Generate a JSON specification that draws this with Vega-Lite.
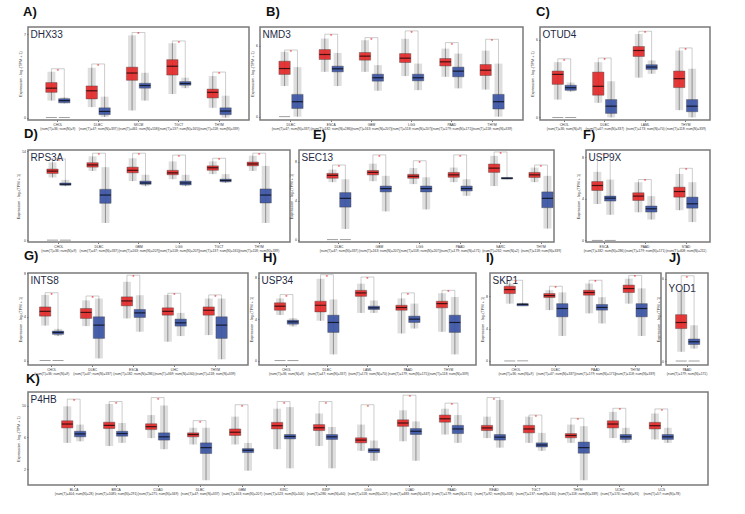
{
"$schema": "https://vega.github.io/schema/vega-lite/v6.json",
"autosize": {"type": "pad"},
"padding": {"left": 15, "top": 5, "right": 5, "bottom": 5},
"background": "white",
"spacing": -4,
"config": {
 "font": "Liberation Sans",
 "view": {"stroke": "#7a7a7a", "strokeWidth": 1.5},
 "title": {"fontSize": 13, "fontWeight": "bold", "anchor": "start", "frame": "group", "offset": 8, "baseline": "alphabetic", "color": "#111"},
 "axisX": {"labelAngle": 0, "labelFontSize": 3.3, "labelLineHeight": 4.2, "tickSize": 1.5, "labelPadding": 1, "labelOverlap": false, "titleX": 2, "titleAlign": "left", "titleBaseline": "alphabetic", "titleFontSize": 10, "titleFontWeight": "normal", "titleColor": "#1e2a44", "domain": false, "grid": false, "labelColor": "#333", "tickColor": "#777"},
 "axisY": {"labelFontSize": 3.5, "titleFontSize": 3.8, "tickSize": 1.5, "labelPadding": 1, "titlePadding": 1.5, "domain": false, "grid": false, "titleFontWeight": "normal", "titleColor": "#333", "labelColor": "#333", "tickColor": "#777"}
},
"vconcat": [
 {"bounds": "flush", "spacing": 11, "hconcat": [
  {"width": 221, "height": 93, "title": {"text": "A)", "dx": -5},
   "data": {"values": [
    {"c": "CHOL|(num(T)=36; num(N)=9)", "t": "Tumor", "lo": 1.43, "q1": 2.12, "md": 2.47, "q3": 2.94, "hi": 3.85, "br": 4.1, "z": 1},
    {"c": "CHOL|(num(T)=36; num(N)=9)", "t": "Normal", "lo": 1.2, "q1": 1.24, "md": 1.43, "q3": 1.59, "hi": 1.7, "br": 4.1, "z": 1},
    {"c": "DLBC|(num(T)=47; num(N)=337)", "t": "Tumor", "lo": 0.88, "q1": 1.57, "md": 2.25, "q3": 2.66, "hi": 4.18, "br": 4.5},
    {"c": "DLBC|(num(T)=47; num(N)=337)", "t": "Normal", "lo": 0.05, "q1": 0.25, "md": 0.52, "q3": 0.82, "hi": 1.76, "br": 4.5},
    {"c": "SKCM|(num(T)=461; num(N)=558)", "t": "Tumor", "lo": 0.6, "q1": 3.13, "md": 3.74, "q3": 4.23, "hi": 6.9, "br": 7.14},
    {"c": "SKCM|(num(T)=461; num(N)=558)", "t": "Normal", "lo": 1.43, "q1": 2.47, "md": 2.69, "q3": 2.88, "hi": 3.76, "br": 7.14},
    {"c": "TGCT|(num(T)=137; num(N)=165)", "t": "Tumor", "lo": 1.98, "q1": 3.57, "md": 4.31, "q3": 4.86, "hi": 6.24, "br": 6.43},
    {"c": "TGCT|(num(T)=137; num(N)=165)", "t": "Normal", "lo": 2.47, "q1": 2.72, "md": 2.86, "q3": 3.02, "hi": 3.35, "br": 6.43},
    {"c": "THYM|(num(T)=118; num(N)=339)", "t": "Tumor", "lo": 0.82, "q1": 1.65, "md": 2.12, "q3": 2.39, "hi": 3.49, "br": 3.82},
    {"c": "THYM|(num(T)=118; num(N)=339)", "t": "Normal", "lo": 0, "q1": 0.25, "md": 0.55, "q3": 0.82, "hi": 1.84, "br": 3.82}
   ]},
   "encoding": {"x": {"field": "c", "type": "nominal", "sort": null, "scale": {"paddingInner": 0.4, "paddingOuter": 0.44}, "axis": {"title": "DHX33", "titleY": -83, "labelExpr": "split(datum.label, '|')"}}},
   "layer": [
    {"mark": {"type": "rule", "color": "#9a9a9a", "strokeWidth": 0.5}, "encoding": {"xOffset": {"field": "t", "type": "nominal", "sort": ["Tumor", "Normal"], "scale": {"paddingInner": 0.12}}, "y": {"field": "hi", "type": "quantitative", "scale": {"domain": [-0.2, 7.6], "nice": false, "zero": false}, "axis": {"title": "Expression - log₂(TPM + 1)", "values": [0, 1, 2, 3, 4, 5, 6, 7]}}, "y2": {"field": "br"}}},
    {"mark": {"type": "line", "color": "#9a9a9a", "strokeWidth": 0.5}, "encoding": {"xOffset": {"field": "t", "type": "nominal", "sort": ["Tumor", "Normal"], "scale": {"paddingInner": 0.12}}, "y": {"field": "br", "type": "quantitative"}, "detail": {"field": "c"}}},
    {"mark": {"type": "bar", "color": "#000", "opacity": 0.13, "width": 8}, "encoding": {"xOffset": {"field": "t", "type": "nominal", "sort": ["Tumor", "Normal"], "scale": {"paddingInner": 0.12}}, "y": {"field": "lo", "type": "quantitative"}, "y2": {"field": "hi"}}},
    {"mark": {"type": "rule", "color": "#222", "strokeWidth": 0.7, "opacity": 0.6}, "encoding": {"xOffset": {"field": "t", "type": "nominal", "sort": ["Tumor", "Normal"], "scale": {"paddingInner": 0.12}}, "y": {"field": "lo", "type": "quantitative"}, "y2": {"field": "hi"}}},
    {"mark": {"type": "bar", "stroke": "#333", "strokeWidth": 0.4, "opacity": 0.92}, "encoding": {"xOffset": {"field": "t", "type": "nominal", "sort": ["Tumor", "Normal"], "scale": {"paddingInner": 0.12}}, "y": {"field": "q1", "type": "quantitative"}, "y2": {"field": "q3"}, "color": {"field": "t", "type": "nominal", "scale": {"domain": ["Tumor", "Normal"], "range": ["#e52a2a", "#3b54a5"]}, "legend": null}}},
    {"mark": {"type": "tick", "color": "#000", "thickness": 1.2, "size": 11}, "encoding": {"xOffset": {"field": "t", "type": "nominal", "sort": ["Tumor", "Normal"], "scale": {"paddingInner": 0.12}}, "y": {"field": "md", "type": "quantitative"}}},
    {"transform": [{"filter": "datum.t == 'Tumor'"}], "mark": {"type": "text", "text": "*", "color": "#e52a2a", "fontSize": 6, "dy": 2}, "encoding": {"y": {"field": "br", "type": "quantitative"}}},
    {"transform": [{"filter": "datum.z == 1"}], "mark": {"type": "tick", "color": "#555", "thickness": 0.8, "size": 11}, "encoding": {"xOffset": {"field": "t", "type": "nominal", "sort": ["Tumor", "Normal"], "scale": {"paddingInner": 0.12}}, "y": {"datum": 0, "type": "quantitative"}}}
   ]},
  {"bounds": "flush", "spacing": 17, "hconcat": [
   {"width": 263, "height": 93, "title": {"text": "B)", "dx": 6},
    "data": {"values": [
     {"c": "DLBC|(num(T)=47; num(N)=337)", "t": "Tumor", "lo": 2.6, "q1": 3.58, "md": 4.08, "q3": 4.7, "hi": 5.5, "br": 5.65, "z": 1},
     {"c": "DLBC|(num(T)=47; num(N)=337)", "t": "Normal", "lo": 0, "q1": 0.7, "md": 1.27, "q3": 1.89, "hi": 4.2, "br": 5.65},
     {"c": "ESCA|(num(T)=182; num(N)=286)", "t": "Tumor", "lo": 3.8, "q1": 4.85, "md": 5.27, "q3": 5.69, "hi": 6.62, "br": 6.99},
     {"c": "ESCA|(num(T)=182; num(N)=286)", "t": "Normal", "lo": 2.6, "q1": 3.8, "md": 4.06, "q3": 4.28, "hi": 5.4, "br": 6.99},
     {"c": "GBM|(num(T)=163; num(N)=207)", "t": "Tumor", "lo": 3.8, "q1": 4.79, "md": 5.13, "q3": 5.44, "hi": 6.48, "br": 6.7},
     {"c": "GBM|(num(T)=163; num(N)=207)", "t": "Normal", "lo": 2.2, "q1": 3.01, "md": 3.3, "q3": 3.6, "hi": 4.37, "br": 6.7},
     {"c": "LGG|(num(T)=518; num(N)=207)", "t": "Tumor", "lo": 3.44, "q1": 4.59, "md": 4.96, "q3": 5.35, "hi": 6.6, "br": 7.27},
     {"c": "LGG|(num(T)=518; num(N)=207)", "t": "Normal", "lo": 2.25, "q1": 3.04, "md": 3.3, "q3": 3.6, "hi": 4.5, "br": 7.27},
     {"c": "PAAD|(num(T)=179; num(N)=171)", "t": "Tumor", "lo": 3.38, "q1": 4.3, "md": 4.65, "q3": 4.93, "hi": 5.77, "br": 6.28},
     {"c": "PAAD|(num(T)=179; num(N)=171)", "t": "Normal", "lo": 2.4, "q1": 3.38, "md": 3.86, "q3": 4.2, "hi": 5.35, "br": 6.28},
     {"c": "THYM|(num(T)=118; num(N)=339)", "t": "Tumor", "lo": 2.3, "q1": 3.49, "md": 3.94, "q3": 4.42, "hi": 5.6, "br": 6.56},
     {"c": "THYM|(num(T)=118; num(N)=339)", "t": "Normal", "lo": 0, "q1": 0.65, "md": 1.27, "q3": 1.89, "hi": 4.5, "br": 6.56}
    ]},
    "encoding": {"x": {"field": "c", "type": "nominal", "sort": null, "scale": {"paddingInner": 0.4, "paddingOuter": 0.47}, "axis": {"title": "NMD3", "titleY": -83, "labelExpr": "split(datum.label, '|')"}}},
    "layer": [
     {"mark": {"type": "rule", "color": "#9a9a9a", "strokeWidth": 0.5}, "encoding": {"xOffset": {"field": "t", "type": "nominal", "sort": ["Tumor", "Normal"], "scale": {"paddingInner": 0.12}}, "y": {"field": "hi", "type": "quantitative", "scale": {"domain": [-0.28, 7.6], "nice": false, "zero": false}, "axis": {"title": "Expression - log₂(TPM + 1)", "values": [0, 2, 4, 6]}}, "y2": {"field": "br"}}},
     {"mark": {"type": "line", "color": "#9a9a9a", "strokeWidth": 0.5}, "encoding": {"xOffset": {"field": "t", "type": "nominal", "sort": ["Tumor", "Normal"], "scale": {"paddingInner": 0.12}}, "y": {"field": "br", "type": "quantitative"}, "detail": {"field": "c"}}},
     {"mark": {"type": "bar", "color": "#000", "opacity": 0.13, "width": 8}, "encoding": {"xOffset": {"field": "t", "type": "nominal", "sort": ["Tumor", "Normal"], "scale": {"paddingInner": 0.12}}, "y": {"field": "lo", "type": "quantitative"}, "y2": {"field": "hi"}}},
     {"mark": {"type": "rule", "color": "#222", "strokeWidth": 0.7, "opacity": 0.6}, "encoding": {"xOffset": {"field": "t", "type": "nominal", "sort": ["Tumor", "Normal"], "scale": {"paddingInner": 0.12}}, "y": {"field": "lo", "type": "quantitative"}, "y2": {"field": "hi"}}},
     {"mark": {"type": "bar", "stroke": "#333", "strokeWidth": 0.4, "opacity": 0.92}, "encoding": {"xOffset": {"field": "t", "type": "nominal", "sort": ["Tumor", "Normal"], "scale": {"paddingInner": 0.12}}, "y": {"field": "q1", "type": "quantitative"}, "y2": {"field": "q3"}, "color": {"field": "t", "type": "nominal", "scale": {"domain": ["Tumor", "Normal"], "range": ["#e52a2a", "#3b54a5"]}, "legend": null}}},
     {"mark": {"type": "tick", "color": "#000", "thickness": 1.2, "size": 11}, "encoding": {"xOffset": {"field": "t", "type": "nominal", "sort": ["Tumor", "Normal"], "scale": {"paddingInner": 0.12}}, "y": {"field": "md", "type": "quantitative"}}},
     {"transform": [{"filter": "datum.t == 'Tumor'"}], "mark": {"type": "text", "text": "*", "color": "#e52a2a", "fontSize": 6, "dy": 2}, "encoding": {"y": {"field": "br", "type": "quantitative"}}},
     {"transform": [{"filter": "datum.z == 1"}], "mark": {"type": "tick", "color": "#555", "thickness": 0.8, "size": 11}, "encoding": {"xOffset": {"field": "t", "type": "nominal", "sort": ["Tumor", "Normal"], "scale": {"paddingInner": 0.12}}, "y": {"datum": 0, "type": "quantitative"}}}
    ]},
   {"width": 170, "height": 93, "title": {"text": "C)", "dx": -4},
    "data": {"values": [
     {"c": "CHOL|(num(T)=36; num(N)=9)", "t": "Tumor", "lo": 1.38, "q1": 2.56, "md": 3.33, "q3": 3.59, "hi": 4.28, "br": 4.54, "z": 1},
     {"c": "CHOL|(num(T)=36; num(N)=9)", "t": "Normal", "lo": 2.0, "q1": 2.1, "md": 2.3, "q3": 2.49, "hi": 2.7, "br": 4.54, "z": 1},
     {"c": "DLBC|(num(T)=47; num(N)=337)", "t": "Tumor", "lo": 1.13, "q1": 1.72, "md": 2.41, "q3": 3.51, "hi": 4.28, "br": 4.6},
     {"c": "DLBC|(num(T)=47; num(N)=337)", "t": "Normal", "lo": 0, "q1": 0.31, "md": 0.87, "q3": 1.38, "hi": 2.8, "br": 4.6},
     {"c": "LAML|(num(T)=173; num(N)=70)", "t": "Tumor", "lo": 3.08, "q1": 4.72, "md": 5.18, "q3": 5.49, "hi": 6.46, "br": 6.67},
     {"c": "LAML|(num(T)=173; num(N)=70)", "t": "Normal", "lo": 3.38, "q1": 3.72, "md": 3.9, "q3": 4.08, "hi": 4.41, "br": 6.67},
     {"c": "THYM|(num(T)=118; num(N)=339)", "t": "Tumor", "lo": 0.56, "q1": 2.31, "md": 3.0, "q3": 3.59, "hi": 5.18, "br": 5.38},
     {"c": "THYM|(num(T)=118; num(N)=339)", "t": "Normal", "lo": 0, "q1": 0.44, "md": 0.87, "q3": 1.38, "hi": 3.77, "br": 5.38}
    ]},
    "encoding": {"x": {"field": "c", "type": "nominal", "sort": null, "scale": {"paddingInner": 0.4, "paddingOuter": 0.3}, "axis": {"title": "OTUD4", "titleY": -83, "labelExpr": "split(datum.label, '|')"}}},
    "layer": [
     {"mark": {"type": "rule", "color": "#9a9a9a", "strokeWidth": 0.5}, "encoding": {"xOffset": {"field": "t", "type": "nominal", "sort": ["Tumor", "Normal"], "scale": {"paddingInner": 0.12}}, "y": {"field": "hi", "type": "quantitative", "scale": {"domain": [-0.2, 7.0], "nice": false, "zero": false}, "axis": {"title": "Expression - log₂(TPM + 1)", "values": [0, 1, 2, 3, 4, 5, 6]}}, "y2": {"field": "br"}}},
     {"mark": {"type": "line", "color": "#9a9a9a", "strokeWidth": 0.5}, "encoding": {"xOffset": {"field": "t", "type": "nominal", "sort": ["Tumor", "Normal"], "scale": {"paddingInner": 0.12}}, "y": {"field": "br", "type": "quantitative"}, "detail": {"field": "c"}}},
     {"mark": {"type": "bar", "color": "#000", "opacity": 0.13, "width": 8}, "encoding": {"xOffset": {"field": "t", "type": "nominal", "sort": ["Tumor", "Normal"], "scale": {"paddingInner": 0.12}}, "y": {"field": "lo", "type": "quantitative"}, "y2": {"field": "hi"}}},
     {"mark": {"type": "rule", "color": "#222", "strokeWidth": 0.7, "opacity": 0.6}, "encoding": {"xOffset": {"field": "t", "type": "nominal", "sort": ["Tumor", "Normal"], "scale": {"paddingInner": 0.12}}, "y": {"field": "lo", "type": "quantitative"}, "y2": {"field": "hi"}}},
     {"mark": {"type": "bar", "stroke": "#333", "strokeWidth": 0.4, "opacity": 0.92}, "encoding": {"xOffset": {"field": "t", "type": "nominal", "sort": ["Tumor", "Normal"], "scale": {"paddingInner": 0.12}}, "y": {"field": "q1", "type": "quantitative"}, "y2": {"field": "q3"}, "color": {"field": "t", "type": "nominal", "scale": {"domain": ["Tumor", "Normal"], "range": ["#e52a2a", "#3b54a5"]}, "legend": null}}},
     {"mark": {"type": "tick", "color": "#000", "thickness": 1.2, "size": 11}, "encoding": {"xOffset": {"field": "t", "type": "nominal", "sort": ["Tumor", "Normal"], "scale": {"paddingInner": 0.12}}, "y": {"field": "md", "type": "quantitative"}}},
     {"transform": [{"filter": "datum.t == 'Tumor'"}], "mark": {"type": "text", "text": "*", "color": "#e52a2a", "fontSize": 6, "dy": 2}, "encoding": {"y": {"field": "br", "type": "quantitative"}}},
     {"transform": [{"filter": "datum.z == 1"}], "mark": {"type": "tick", "color": "#555", "thickness": 0.8, "size": 11}, "encoding": {"xOffset": {"field": "t", "type": "nominal", "sort": ["Tumor", "Normal"], "scale": {"paddingInner": 0.12}}, "y": {"datum": 0, "type": "quantitative"}}}
    ]}
  ]}
 ]},
 {"bounds": "flush", "spacing": 9, "hconcat": [
  {"width": 262, "height": 92, "title": {"text": "D)", "dx": -4},
   "data": {"values": [
    {"c": "CHOL|(num(T)=36; num(N)=9)", "t": "Tumor", "lo": 9.87, "q1": 10.5, "md": 10.87, "q3": 11.2, "hi": 12.25, "br": 12.8, "z": 1},
    {"c": "CHOL|(num(T)=36; num(N)=9)", "t": "Normal", "lo": 8.5, "q1": 8.65, "md": 8.8, "q3": 9.0, "hi": 9.5, "br": 12.8, "z": 1},
    {"c": "DLBC|(num(T)=47; num(N)=337)", "t": "Tumor", "lo": 10.9, "q1": 11.5, "md": 11.85, "q3": 12.2, "hi": 13.2, "br": 13.7},
    {"c": "DLBC|(num(T)=47; num(N)=337)", "t": "Normal", "lo": 2.7, "q1": 5.8, "md": 7.1, "q3": 8.0, "hi": 11.5, "br": 13.7},
    {"c": "GBM|(num(T)=163; num(N)=207)", "t": "Tumor", "lo": 9.3, "q1": 10.6, "md": 11.0, "q3": 11.5, "hi": 12.9, "br": 13.7},
    {"c": "GBM|(num(T)=163; num(N)=207)", "t": "Normal", "lo": 8.5, "q1": 8.8, "md": 9.0, "q3": 9.3, "hi": 10.3, "br": 13.7},
    {"c": "LGG|(num(T)=518; num(N)=207)", "t": "Tumor", "lo": 9.6, "q1": 10.3, "md": 10.6, "q3": 11.0, "hi": 12.4, "br": 13.4},
    {"c": "LGG|(num(T)=518; num(N)=207)", "t": "Normal", "lo": 8.5, "q1": 8.7, "md": 9.0, "q3": 9.3, "hi": 10.3, "br": 13.4},
    {"c": "TGCT|(num(T)=137; num(N)=165)", "t": "Tumor", "lo": 10.4, "q1": 11.0, "md": 11.4, "q3": 11.7, "hi": 12.4, "br": 12.9},
    {"c": "TGCT|(num(T)=137; num(N)=165)", "t": "Normal", "lo": 9.0, "q1": 9.2, "md": 9.4, "q3": 9.6, "hi": 10.4, "br": 12.9},
    {"c": "THYM|(num(T)=118; num(N)=339)", "t": "Tumor", "lo": 10.9, "q1": 11.7, "md": 12.0, "q3": 12.3, "hi": 13.3, "br": 13.7},
    {"c": "THYM|(num(T)=118; num(N)=339)", "t": "Normal", "lo": 2.7, "q1": 5.85, "md": 7.1, "q3": 8.06, "hi": 11.7, "br": 13.7}
   ]},
   "encoding": {"x": {"field": "c", "type": "nominal", "sort": null, "scale": {"paddingInner": 0.4, "paddingOuter": 0.47}, "axis": {"title": "RPS3A", "titleY": -82, "labelExpr": "split(datum.label, '|')"}}},
   "layer": [
    {"mark": {"type": "rule", "color": "#9a9a9a", "strokeWidth": 0.5}, "encoding": {"xOffset": {"field": "t", "type": "nominal", "sort": ["Tumor", "Normal"], "scale": {"paddingInner": 0.12}}, "y": {"field": "hi", "type": "quantitative", "scale": {"domain": [-0.3, 14.2], "nice": false, "zero": false}, "axis": {"title": "Expression - log₂(TPM + 1)", "values": [0, 2, 4, 6, 8, 10, 12, 14]}}, "y2": {"field": "br"}}},
    {"mark": {"type": "line", "color": "#9a9a9a", "strokeWidth": 0.5}, "encoding": {"xOffset": {"field": "t", "type": "nominal", "sort": ["Tumor", "Normal"], "scale": {"paddingInner": 0.12}}, "y": {"field": "br", "type": "quantitative"}, "detail": {"field": "c"}}},
    {"mark": {"type": "bar", "color": "#000", "opacity": 0.13, "width": 8}, "encoding": {"xOffset": {"field": "t", "type": "nominal", "sort": ["Tumor", "Normal"], "scale": {"paddingInner": 0.12}}, "y": {"field": "lo", "type": "quantitative"}, "y2": {"field": "hi"}}},
    {"mark": {"type": "rule", "color": "#222", "strokeWidth": 0.7, "opacity": 0.6}, "encoding": {"xOffset": {"field": "t", "type": "nominal", "sort": ["Tumor", "Normal"], "scale": {"paddingInner": 0.12}}, "y": {"field": "lo", "type": "quantitative"}, "y2": {"field": "hi"}}},
    {"mark": {"type": "bar", "stroke": "#333", "strokeWidth": 0.4, "opacity": 0.92}, "encoding": {"xOffset": {"field": "t", "type": "nominal", "sort": ["Tumor", "Normal"], "scale": {"paddingInner": 0.12}}, "y": {"field": "q1", "type": "quantitative"}, "y2": {"field": "q3"}, "color": {"field": "t", "type": "nominal", "scale": {"domain": ["Tumor", "Normal"], "range": ["#e52a2a", "#3b54a5"]}, "legend": null}}},
    {"mark": {"type": "tick", "color": "#000", "thickness": 1.2, "size": 11}, "encoding": {"xOffset": {"field": "t", "type": "nominal", "sort": ["Tumor", "Normal"], "scale": {"paddingInner": 0.12}}, "y": {"field": "md", "type": "quantitative"}}},
    {"transform": [{"filter": "datum.t == 'Tumor'"}], "mark": {"type": "text", "text": "*", "color": "#e52a2a", "fontSize": 6, "dy": 2}, "encoding": {"y": {"field": "br", "type": "quantitative"}}},
    {"transform": [{"filter": "datum.z == 1"}], "mark": {"type": "tick", "color": "#555", "thickness": 0.8, "size": 11}, "encoding": {"xOffset": {"field": "t", "type": "nominal", "sort": ["Tumor", "Normal"], "scale": {"paddingInner": 0.12}}, "y": {"datum": 0, "type": "quantitative"}}}
   ]},
  {"bounds": "flush", "spacing": 32, "hconcat": [
   {"width": 255, "height": 92, "title": {"text": "E)", "dx": 14},
    "data": {"values": [
     {"c": "DLBC|(num(T)=47; num(N)=337)", "t": "Tumor", "lo": 5.9, "q1": 6.3, "md": 6.6, "q3": 6.8, "hi": 7.2, "br": 7.66, "z": 1},
     {"c": "DLBC|(num(T)=47; num(N)=337)", "t": "Normal", "lo": 1.1, "q1": 3.34, "md": 4.24, "q3": 4.83, "hi": 6.2, "br": 7.66, "z": 1},
     {"c": "GBM|(num(T)=163; num(N)=207)", "t": "Tumor", "lo": 6.0, "q1": 6.65, "md": 6.9, "q3": 7.1, "hi": 7.8, "br": 8.7},
     {"c": "GBM|(num(T)=163; num(N)=207)", "t": "Normal", "lo": 2.9, "q1": 4.9, "md": 5.24, "q3": 5.5, "hi": 6.55, "br": 8.7},
     {"c": "LGG|(num(T)=518; num(N)=207)", "t": "Tumor", "lo": 5.7, "q1": 6.3, "md": 6.5, "q3": 6.7, "hi": 7.35, "br": 8.1},
     {"c": "LGG|(num(T)=518; num(N)=207)", "t": "Normal", "lo": 3.1, "q1": 4.9, "md": 5.24, "q3": 5.5, "hi": 6.4, "br": 8.1},
     {"c": "PAAD|(num(T)=179; num(N)=171)", "t": "Tumor", "lo": 5.9, "q1": 6.4, "md": 6.65, "q3": 6.9, "hi": 7.4, "br": 8.7},
     {"c": "PAAD|(num(T)=179; num(N)=171)", "t": "Normal", "lo": 4.5, "q1": 5.0, "md": 5.24, "q3": 5.5, "hi": 6.2, "br": 8.7},
     {"c": "SARC|(num(T)=262; num(N)=2)", "t": "Tumor", "lo": 5.5, "q1": 6.9, "md": 7.34, "q3": 7.76, "hi": 8.6, "br": 9.0},
     {"c": "SARC|(num(T)=262; num(N)=2)", "t": "Normal", "lo": 6.2, "q1": 6.22, "md": 6.3, "q3": 6.38, "hi": 6.4, "br": 9.0},
     {"c": "THYM|(num(T)=118; num(N)=339)", "t": "Tumor", "lo": 5.9, "q1": 6.38, "md": 6.65, "q3": 6.9, "hi": 7.4, "br": 7.66},
     {"c": "THYM|(num(T)=118; num(N)=339)", "t": "Normal", "lo": 1.14, "q1": 3.28, "md": 4.24, "q3": 4.9, "hi": 6.55, "br": 7.66}
    ]},
    "encoding": {"x": {"field": "c", "type": "nominal", "sort": null, "scale": {"paddingInner": 0.4, "paddingOuter": 0.355, "align": 0.97}, "axis": {"title": "SEC13", "titleY": -82, "labelExpr": "split(datum.label, '|')"}}},
    "layer": [
     {"mark": {"type": "rule", "color": "#9a9a9a", "strokeWidth": 0.5}, "encoding": {"xOffset": {"field": "t", "type": "nominal", "sort": ["Tumor", "Normal"], "scale": {"paddingInner": 0.12}}, "y": {"field": "hi", "type": "quantitative", "scale": {"domain": [-0.24, 9.2], "nice": false, "zero": false}, "axis": {"title": "Expression - log₂(TPM + 1)", "values": [0, 2, 4, 6, 8]}}, "y2": {"field": "br"}}},
     {"mark": {"type": "line", "color": "#9a9a9a", "strokeWidth": 0.5}, "encoding": {"xOffset": {"field": "t", "type": "nominal", "sort": ["Tumor", "Normal"], "scale": {"paddingInner": 0.12}}, "y": {"field": "br", "type": "quantitative"}, "detail": {"field": "c"}}},
     {"mark": {"type": "bar", "color": "#000", "opacity": 0.13, "width": 8}, "encoding": {"xOffset": {"field": "t", "type": "nominal", "sort": ["Tumor", "Normal"], "scale": {"paddingInner": 0.12}}, "y": {"field": "lo", "type": "quantitative"}, "y2": {"field": "hi"}}},
     {"mark": {"type": "rule", "color": "#222", "strokeWidth": 0.7, "opacity": 0.6}, "encoding": {"xOffset": {"field": "t", "type": "nominal", "sort": ["Tumor", "Normal"], "scale": {"paddingInner": 0.12}}, "y": {"field": "lo", "type": "quantitative"}, "y2": {"field": "hi"}}},
     {"mark": {"type": "bar", "stroke": "#333", "strokeWidth": 0.4, "opacity": 0.92}, "encoding": {"xOffset": {"field": "t", "type": "nominal", "sort": ["Tumor", "Normal"], "scale": {"paddingInner": 0.12}}, "y": {"field": "q1", "type": "quantitative"}, "y2": {"field": "q3"}, "color": {"field": "t", "type": "nominal", "scale": {"domain": ["Tumor", "Normal"], "range": ["#e52a2a", "#3b54a5"]}, "legend": null}}},
     {"mark": {"type": "tick", "color": "#000", "thickness": 1.2, "size": 11}, "encoding": {"xOffset": {"field": "t", "type": "nominal", "sort": ["Tumor", "Normal"], "scale": {"paddingInner": 0.12}}, "y": {"field": "md", "type": "quantitative"}}},
     {"transform": [{"filter": "datum.t == 'Tumor'"}], "mark": {"type": "text", "text": "*", "color": "#e52a2a", "fontSize": 6, "dy": 2}, "encoding": {"y": {"field": "br", "type": "quantitative"}}},
     {"transform": [{"filter": "datum.z == 1"}], "mark": {"type": "tick", "color": "#555", "thickness": 0.8, "size": 11}, "encoding": {"xOffset": {"field": "t", "type": "nominal", "sort": ["Tumor", "Normal"], "scale": {"paddingInner": 0.12}}, "y": {"datum": 0, "type": "quantitative"}}}
    ]},
   {"width": 124, "height": 92, "title": {"text": "F)", "dx": -3},
    "data": {"values": [
     {"c": "ESCA|(num(T)=182; num(N)=286)", "t": "Tumor", "lo": 3.5, "q1": 4.8, "md": 5.28, "q3": 5.66, "hi": 6.6, "br": 8.3, "z": 1},
     {"c": "ESCA|(num(T)=182; num(N)=286)", "t": "Normal", "lo": 2.46, "q1": 3.78, "md": 4.06, "q3": 4.26, "hi": 5.85, "br": 8.3, "z": 1},
     {"c": "PAAD|(num(T)=179; num(N)=171)", "t": "Tumor", "lo": 2.7, "q1": 3.84, "md": 4.26, "q3": 4.58, "hi": 5.6, "br": 5.86},
     {"c": "PAAD|(num(T)=179; num(N)=171)", "t": "Normal", "lo": 2.0, "q1": 2.72, "md": 3.04, "q3": 3.3, "hi": 4.26, "br": 5.86},
     {"c": "STAD|(num(T)=408; num(N)=211)", "t": "Tumor", "lo": 2.9, "q1": 4.16, "md": 4.7, "q3": 5.12, "hi": 6.4, "br": 6.94},
     {"c": "STAD|(num(T)=408; num(N)=211)", "t": "Normal", "lo": 1.76, "q1": 3.1, "md": 3.52, "q3": 4.16, "hi": 5.6, "br": 6.94}
    ]},
    "encoding": {"x": {"field": "c", "type": "nominal", "sort": null, "scale": {"paddingInner": 0.4, "paddingOuter": 0.21, "align": 0.33}, "axis": {"title": "USP9X", "titleY": -82, "labelExpr": "split(datum.label, '|')"}}},
    "layer": [
     {"mark": {"type": "rule", "color": "#9a9a9a", "strokeWidth": 0.5}, "encoding": {"xOffset": {"field": "t", "type": "nominal", "sort": ["Tumor", "Normal"], "scale": {"paddingInner": 0.12}}, "y": {"field": "hi", "type": "quantitative", "scale": {"domain": [-0.16, 8.7], "nice": false, "zero": false}, "axis": {"title": "Expression - log₂(TPM + 1)", "values": [0, 2, 4, 6, 8]}}, "y2": {"field": "br"}}},
     {"mark": {"type": "line", "color": "#9a9a9a", "strokeWidth": 0.5}, "encoding": {"xOffset": {"field": "t", "type": "nominal", "sort": ["Tumor", "Normal"], "scale": {"paddingInner": 0.12}}, "y": {"field": "br", "type": "quantitative"}, "detail": {"field": "c"}}},
     {"mark": {"type": "bar", "color": "#000", "opacity": 0.13, "width": 8}, "encoding": {"xOffset": {"field": "t", "type": "nominal", "sort": ["Tumor", "Normal"], "scale": {"paddingInner": 0.12}}, "y": {"field": "lo", "type": "quantitative"}, "y2": {"field": "hi"}}},
     {"mark": {"type": "rule", "color": "#222", "strokeWidth": 0.7, "opacity": 0.6}, "encoding": {"xOffset": {"field": "t", "type": "nominal", "sort": ["Tumor", "Normal"], "scale": {"paddingInner": 0.12}}, "y": {"field": "lo", "type": "quantitative"}, "y2": {"field": "hi"}}},
     {"mark": {"type": "bar", "stroke": "#333", "strokeWidth": 0.4, "opacity": 0.92}, "encoding": {"xOffset": {"field": "t", "type": "nominal", "sort": ["Tumor", "Normal"], "scale": {"paddingInner": 0.12}}, "y": {"field": "q1", "type": "quantitative"}, "y2": {"field": "q3"}, "color": {"field": "t", "type": "nominal", "scale": {"domain": ["Tumor", "Normal"], "range": ["#e52a2a", "#3b54a5"]}, "legend": null}}},
     {"mark": {"type": "tick", "color": "#000", "thickness": 1.2, "size": 11}, "encoding": {"xOffset": {"field": "t", "type": "nominal", "sort": ["Tumor", "Normal"], "scale": {"paddingInner": 0.12}}, "y": {"field": "md", "type": "quantitative"}}},
     {"transform": [{"filter": "datum.t == 'Tumor'"}], "mark": {"type": "text", "text": "*", "color": "#e52a2a", "fontSize": 6, "dy": 2}, "encoding": {"y": {"field": "br", "type": "quantitative"}}},
     {"transform": [{"filter": "datum.z == 1"}], "mark": {"type": "tick", "color": "#555", "thickness": 0.8, "size": 11}, "encoding": {"xOffset": {"field": "t", "type": "nominal", "sort": ["Tumor", "Normal"], "scale": {"paddingInner": 0.12}}, "y": {"datum": 0, "type": "quantitative"}}}
    ]}
  ]}
 ]},
 {"bounds": "flush", "spacing": 11, "hconcat": [
  {"width": 220, "height": 92, "title": {"text": "G)", "dx": -4},
   "data": {"values": [
    {"c": "CHOL|(num(T)=36; num(N)=9)", "t": "Tumor", "lo": 3.2, "q1": 4.06, "md": 4.5, "q3": 4.9, "hi": 6.0, "br": 6.2, "z": 1},
    {"c": "CHOL|(num(T)=36; num(N)=9)", "t": "Normal", "lo": 2.24, "q1": 2.4, "md": 2.57, "q3": 2.7, "hi": 2.9, "br": 6.2, "z": 1},
    {"c": "DLBC|(num(T)=47; num(N)=337)", "t": "Tumor", "lo": 3.15, "q1": 3.85, "md": 4.4, "q3": 4.76, "hi": 5.5, "br": 5.9},
    {"c": "DLBC|(num(T)=47; num(N)=337)", "t": "Normal", "lo": 0.2, "q1": 2.03, "md": 3.24, "q3": 4.0, "hi": 5.67, "br": 5.9},
    {"c": "ESCA|(num(T)=182; num(N)=286)", "t": "Tumor", "lo": 3.85, "q1": 5.0, "md": 5.45, "q3": 5.82, "hi": 7.2, "br": 7.8},
    {"c": "ESCA|(num(T)=182; num(N)=286)", "t": "Normal", "lo": 2.64, "q1": 3.94, "md": 4.36, "q3": 4.67, "hi": 5.97, "br": 7.8},
    {"c": "LIHC|(num(T)=369; num(N)=160)", "t": "Tumor", "lo": 1.73, "q1": 4.15, "md": 4.5, "q3": 4.82, "hi": 6.0, "br": 6.15},
    {"c": "LIHC|(num(T)=369; num(N)=160)", "t": "Normal", "lo": 2.24, "q1": 3.15, "md": 3.45, "q3": 3.79, "hi": 4.36, "br": 6.15},
    {"c": "THYM|(num(T)=118; num(N)=339)", "t": "Tumor", "lo": 2.33, "q1": 4.15, "md": 4.6, "q3": 4.9, "hi": 5.67, "br": 6.0},
    {"c": "THYM|(num(T)=118; num(N)=339)", "t": "Normal", "lo": 0.12, "q1": 2.03, "md": 3.24, "q3": 4.0, "hi": 5.67, "br": 6.0}
   ]},
   "encoding": {"x": {"field": "c", "type": "nominal", "sort": null, "scale": {"paddingInner": 0.4, "paddingOuter": 0.39, "align": 0.36}, "axis": {"title": "INTS8", "titleY": -82, "labelExpr": "split(datum.label, '|')"}}},
   "layer": [
    {"mark": {"type": "rule", "color": "#9a9a9a", "strokeWidth": 0.5}, "encoding": {"xOffset": {"field": "t", "type": "nominal", "sort": ["Tumor", "Normal"], "scale": {"paddingInner": 0.12}}, "y": {"field": "hi", "type": "quantitative", "scale": {"domain": [-0.4, 8.0], "nice": false, "zero": false}, "axis": {"title": "Expression - log₂(TPM + 1)", "values": [0, 2, 4, 6, 8]}}, "y2": {"field": "br"}}},
    {"mark": {"type": "line", "color": "#9a9a9a", "strokeWidth": 0.5}, "encoding": {"xOffset": {"field": "t", "type": "nominal", "sort": ["Tumor", "Normal"], "scale": {"paddingInner": 0.12}}, "y": {"field": "br", "type": "quantitative"}, "detail": {"field": "c"}}},
    {"mark": {"type": "bar", "color": "#000", "opacity": 0.13, "width": 8}, "encoding": {"xOffset": {"field": "t", "type": "nominal", "sort": ["Tumor", "Normal"], "scale": {"paddingInner": 0.12}}, "y": {"field": "lo", "type": "quantitative"}, "y2": {"field": "hi"}}},
    {"mark": {"type": "rule", "color": "#222", "strokeWidth": 0.7, "opacity": 0.6}, "encoding": {"xOffset": {"field": "t", "type": "nominal", "sort": ["Tumor", "Normal"], "scale": {"paddingInner": 0.12}}, "y": {"field": "lo", "type": "quantitative"}, "y2": {"field": "hi"}}},
    {"mark": {"type": "bar", "stroke": "#333", "strokeWidth": 0.4, "opacity": 0.92}, "encoding": {"xOffset": {"field": "t", "type": "nominal", "sort": ["Tumor", "Normal"], "scale": {"paddingInner": 0.12}}, "y": {"field": "q1", "type": "quantitative"}, "y2": {"field": "q3"}, "color": {"field": "t", "type": "nominal", "scale": {"domain": ["Tumor", "Normal"], "range": ["#e52a2a", "#3b54a5"]}, "legend": null}}},
    {"mark": {"type": "tick", "color": "#000", "thickness": 1.2, "size": 11}, "encoding": {"xOffset": {"field": "t", "type": "nominal", "sort": ["Tumor", "Normal"], "scale": {"paddingInner": 0.12}}, "y": {"field": "md", "type": "quantitative"}}},
    {"transform": [{"filter": "datum.t == 'Tumor'"}], "mark": {"type": "text", "text": "*", "color": "#e52a2a", "fontSize": 6, "dy": 2}, "encoding": {"y": {"field": "br", "type": "quantitative"}}},
    {"transform": [{"filter": "datum.z == 1"}], "mark": {"type": "tick", "color": "#555", "thickness": 0.8, "size": 11}, "encoding": {"xOffset": {"field": "t", "type": "nominal", "sort": ["Tumor", "Normal"], "scale": {"paddingInner": 0.12}}, "y": {"datum": 0, "type": "quantitative"}}}
   ]},
  {"bounds": "flush", "spacing": 14, "hconcat": [
   {"width": 217, "height": 92, "title": {"text": "H)", "dx": 4},
    "data": {"values": [
     {"c": "CHOL|(num(T)=36; num(N)=9)", "t": "Tumor", "lo": 4.4, "q1": 4.86, "md": 5.25, "q3": 5.57, "hi": 6.0, "br": 6.37, "z": 1},
     {"c": "CHOL|(num(T)=36; num(N)=9)", "t": "Normal", "lo": 3.3, "q1": 3.52, "md": 3.74, "q3": 3.9, "hi": 4.1, "br": 6.37, "z": 1},
     {"c": "DLBC|(num(T)=47; num(N)=337)", "t": "Tumor", "lo": 3.84, "q1": 4.7, "md": 5.34, "q3": 5.73, "hi": 7.9, "br": 8.29},
     {"c": "DLBC|(num(T)=47; num(N)=337)", "t": "Normal", "lo": 0.6, "q1": 2.72, "md": 3.68, "q3": 4.38, "hi": 5.9, "br": 8.29},
     {"c": "LAML|(num(T)=173; num(N)=70)", "t": "Tumor", "lo": 4.6, "q1": 6.2, "md": 6.53, "q3": 6.78, "hi": 7.42, "br": 8.06},
     {"c": "LAML|(num(T)=173; num(N)=70)", "t": "Normal", "lo": 4.6, "q1": 4.93, "md": 5.09, "q3": 5.25, "hi": 5.8, "br": 8.06},
     {"c": "PAAD|(num(T)=179; num(N)=171)", "t": "Tumor", "lo": 2.62, "q1": 4.86, "md": 5.12, "q3": 5.34, "hi": 6.0, "br": 6.53},
     {"c": "PAAD|(num(T)=179; num(N)=171)", "t": "Normal", "lo": 3.1, "q1": 3.68, "md": 4.0, "q3": 4.29, "hi": 5.5, "br": 6.53},
     {"c": "THYM|(num(T)=118; num(N)=339)", "t": "Tumor", "lo": 2.78, "q1": 5.09, "md": 5.5, "q3": 5.73, "hi": 6.5, "br": 6.78},
     {"c": "THYM|(num(T)=118; num(N)=339)", "t": "Normal", "lo": 0.6, "q1": 2.72, "md": 3.68, "q3": 4.38, "hi": 6.14, "br": 6.78}
    ]},
    "encoding": {"x": {"field": "c", "type": "nominal", "sort": null, "scale": {"paddingInner": 0.4, "paddingOuter": 0.38}, "axis": {"title": "USP34", "titleY": -82, "labelExpr": "split(datum.label, '|')"}}},
    "layer": [
     {"mark": {"type": "rule", "color": "#9a9a9a", "strokeWidth": 0.5}, "encoding": {"xOffset": {"field": "t", "type": "nominal", "sort": ["Tumor", "Normal"], "scale": {"paddingInner": 0.12}}, "y": {"field": "hi", "type": "quantitative", "scale": {"domain": [-0.42, 8.45], "nice": false, "zero": false}, "axis": {"title": "Expression - log₂(TPM + 1)", "values": [0, 2, 4, 6, 8]}}, "y2": {"field": "br"}}},
     {"mark": {"type": "line", "color": "#9a9a9a", "strokeWidth": 0.5}, "encoding": {"xOffset": {"field": "t", "type": "nominal", "sort": ["Tumor", "Normal"], "scale": {"paddingInner": 0.12}}, "y": {"field": "br", "type": "quantitative"}, "detail": {"field": "c"}}},
     {"mark": {"type": "bar", "color": "#000", "opacity": 0.13, "width": 8}, "encoding": {"xOffset": {"field": "t", "type": "nominal", "sort": ["Tumor", "Normal"], "scale": {"paddingInner": 0.12}}, "y": {"field": "lo", "type": "quantitative"}, "y2": {"field": "hi"}}},
     {"mark": {"type": "rule", "color": "#222", "strokeWidth": 0.7, "opacity": 0.6}, "encoding": {"xOffset": {"field": "t", "type": "nominal", "sort": ["Tumor", "Normal"], "scale": {"paddingInner": 0.12}}, "y": {"field": "lo", "type": "quantitative"}, "y2": {"field": "hi"}}},
     {"mark": {"type": "bar", "stroke": "#333", "strokeWidth": 0.4, "opacity": 0.92}, "encoding": {"xOffset": {"field": "t", "type": "nominal", "sort": ["Tumor", "Normal"], "scale": {"paddingInner": 0.12}}, "y": {"field": "q1", "type": "quantitative"}, "y2": {"field": "q3"}, "color": {"field": "t", "type": "nominal", "scale": {"domain": ["Tumor", "Normal"], "range": ["#e52a2a", "#3b54a5"]}, "legend": null}}},
     {"mark": {"type": "tick", "color": "#000", "thickness": 1.2, "size": 11}, "encoding": {"xOffset": {"field": "t", "type": "nominal", "sort": ["Tumor", "Normal"], "scale": {"paddingInner": 0.12}}, "y": {"field": "md", "type": "quantitative"}}},
     {"transform": [{"filter": "datum.t == 'Tumor'"}], "mark": {"type": "text", "text": "*", "color": "#e52a2a", "fontSize": 6, "dy": 2}, "encoding": {"y": {"field": "br", "type": "quantitative"}}},
     {"transform": [{"filter": "datum.z == 1"}], "mark": {"type": "tick", "color": "#555", "thickness": 0.8, "size": 11}, "encoding": {"xOffset": {"field": "t", "type": "nominal", "sort": ["Tumor", "Normal"], "scale": {"paddingInner": 0.12}}, "y": {"datum": 0, "type": "quantitative"}}}
    ]},
   {"bounds": "flush", "spacing": 5, "hconcat": [
    {"width": 171, "height": 92, "title": {"text": "I)", "dx": -4},
     "data": {"values": [
      {"c": "CHOL|(num(T)=36; num(N)=9)", "t": "Tumor", "lo": 7.1, "q1": 8.35, "md": 8.85, "q3": 9.26, "hi": 9.6, "br": 10.0, "z": 1},
      {"c": "CHOL|(num(T)=36; num(N)=9)", "t": "Normal", "lo": 6.8, "q1": 6.83, "md": 7.0, "q3": 7.1, "hi": 7.2, "br": 10.0, "z": 1},
      {"c": "DLBC|(num(T)=47; num(N)=337)", "t": "Tumor", "lo": 6.3, "q1": 7.86, "md": 8.1, "q3": 8.35, "hi": 8.77, "br": 9.26},
      {"c": "DLBC|(num(T)=47; num(N)=337)", "t": "Normal", "lo": 3.1, "q1": 5.47, "md": 6.5, "q3": 7.1, "hi": 8.5, "br": 9.26},
      {"c": "PAAD|(num(T)=179; num(N)=171)", "t": "Tumor", "lo": 5.9, "q1": 8.15, "md": 8.48, "q3": 8.77, "hi": 9.6, "br": 10.0},
      {"c": "PAAD|(num(T)=179; num(N)=171)", "t": "Normal", "lo": 4.65, "q1": 6.3, "md": 6.63, "q3": 7.0, "hi": 7.9, "br": 10.0},
      {"c": "THYM|(num(T)=118; num(N)=339)", "t": "Tumor", "lo": 7.1, "q1": 8.48, "md": 8.97, "q3": 9.4, "hi": 10.2, "br": 10.6},
      {"c": "THYM|(num(T)=118; num(N)=339)", "t": "Normal", "lo": 3.1, "q1": 5.47, "md": 6.5, "q3": 7.1, "hi": 9.0, "br": 10.6}
     ]},
     "encoding": {"x": {"field": "c", "type": "nominal", "sort": null, "scale": {"paddingInner": 0.4, "paddingOuter": 0.355}, "axis": {"title": "SKP1", "titleY": -82, "labelExpr": "split(datum.label, '|')"}}},
     "layer": [
      {"mark": {"type": "rule", "color": "#9a9a9a", "strokeWidth": 0.5}, "encoding": {"xOffset": {"field": "t", "type": "nominal", "sort": ["Tumor", "Normal"], "scale": {"paddingInner": 0.12}}, "y": {"field": "hi", "type": "quantitative", "scale": {"domain": [-0.5, 10.9], "nice": false, "zero": false}, "axis": {"title": "Expression - log₂(TPM + 1)", "values": [0, 2, 4, 6, 8, 10]}}, "y2": {"field": "br"}}},
      {"mark": {"type": "line", "color": "#9a9a9a", "strokeWidth": 0.5}, "encoding": {"xOffset": {"field": "t", "type": "nominal", "sort": ["Tumor", "Normal"], "scale": {"paddingInner": 0.12}}, "y": {"field": "br", "type": "quantitative"}, "detail": {"field": "c"}}},
      {"mark": {"type": "bar", "color": "#000", "opacity": 0.13, "width": 8}, "encoding": {"xOffset": {"field": "t", "type": "nominal", "sort": ["Tumor", "Normal"], "scale": {"paddingInner": 0.12}}, "y": {"field": "lo", "type": "quantitative"}, "y2": {"field": "hi"}}},
      {"mark": {"type": "rule", "color": "#222", "strokeWidth": 0.7, "opacity": 0.6}, "encoding": {"xOffset": {"field": "t", "type": "nominal", "sort": ["Tumor", "Normal"], "scale": {"paddingInner": 0.12}}, "y": {"field": "lo", "type": "quantitative"}, "y2": {"field": "hi"}}},
      {"mark": {"type": "bar", "stroke": "#333", "strokeWidth": 0.4, "opacity": 0.92}, "encoding": {"xOffset": {"field": "t", "type": "nominal", "sort": ["Tumor", "Normal"], "scale": {"paddingInner": 0.12}}, "y": {"field": "q1", "type": "quantitative"}, "y2": {"field": "q3"}, "color": {"field": "t", "type": "nominal", "scale": {"domain": ["Tumor", "Normal"], "range": ["#e52a2a", "#3b54a5"]}, "legend": null}}},
      {"mark": {"type": "tick", "color": "#000", "thickness": 1.2, "size": 11}, "encoding": {"xOffset": {"field": "t", "type": "nominal", "sort": ["Tumor", "Normal"], "scale": {"paddingInner": 0.12}}, "y": {"field": "md", "type": "quantitative"}}},
      {"transform": [{"filter": "datum.t == 'Tumor'"}], "mark": {"type": "text", "text": "*", "color": "#e52a2a", "fontSize": 6, "dy": 2}, "encoding": {"y": {"field": "br", "type": "quantitative"}}},
      {"transform": [{"filter": "datum.z == 1"}], "mark": {"type": "tick", "color": "#555", "thickness": 0.8, "size": 11}, "encoding": {"xOffset": {"field": "t", "type": "nominal", "sort": ["Tumor", "Normal"], "scale": {"paddingInner": 0.12}}, "y": {"datum": 0, "type": "quantitative"}}}
     ]},
    {"width": 42, "height": 92, "title": {"text": "J)", "dx": 3},
     "data": {"values": [
      {"c": "PAAD|(num(T)=179; num(N)=171)", "t": "Tumor", "lo": 0.67, "q1": 2.36, "md": 2.8, "q3": 3.37, "hi": 5.1, "br": 6.2, "z": 1},
      {"c": "PAAD|(num(T)=179; num(N)=171)", "t": "Normal", "lo": 0.9, "q1": 1.2, "md": 1.4, "q3": 1.6, "hi": 2.6, "br": 6.2, "z": 1}
     ]},
     "encoding": {"x": {"field": "c", "type": "nominal", "sort": null, "scale": {"paddingInner": 0.4, "paddingOuter": 0.25}, "axis": {"title": "YOD1", "titleY": -74, "labelExpr": "split(datum.label, '|')"}}},
     "layer": [
      {"mark": {"type": "rule", "color": "#9a9a9a", "strokeWidth": 0.5}, "encoding": {"xOffset": {"field": "t", "type": "nominal", "sort": ["Tumor", "Normal"], "scale": {"paddingInner": 0.12}}, "y": {"field": "hi", "type": "quantitative", "scale": {"domain": [-0.29, 6.4], "nice": false, "zero": false}, "axis": {"title": "Expression - log₂(TPM + 1)", "values": [0, 2, 4, 6]}}, "y2": {"field": "br"}}},
      {"mark": {"type": "line", "color": "#9a9a9a", "strokeWidth": 0.5}, "encoding": {"xOffset": {"field": "t", "type": "nominal", "sort": ["Tumor", "Normal"], "scale": {"paddingInner": 0.12}}, "y": {"field": "br", "type": "quantitative"}, "detail": {"field": "c"}}},
      {"mark": {"type": "bar", "color": "#000", "opacity": 0.13, "width": 8}, "encoding": {"xOffset": {"field": "t", "type": "nominal", "sort": ["Tumor", "Normal"], "scale": {"paddingInner": 0.12}}, "y": {"field": "lo", "type": "quantitative"}, "y2": {"field": "hi"}}},
      {"mark": {"type": "rule", "color": "#222", "strokeWidth": 0.7, "opacity": 0.6}, "encoding": {"xOffset": {"field": "t", "type": "nominal", "sort": ["Tumor", "Normal"], "scale": {"paddingInner": 0.12}}, "y": {"field": "lo", "type": "quantitative"}, "y2": {"field": "hi"}}},
      {"mark": {"type": "bar", "stroke": "#333", "strokeWidth": 0.4, "opacity": 0.92}, "encoding": {"xOffset": {"field": "t", "type": "nominal", "sort": ["Tumor", "Normal"], "scale": {"paddingInner": 0.12}}, "y": {"field": "q1", "type": "quantitative"}, "y2": {"field": "q3"}, "color": {"field": "t", "type": "nominal", "scale": {"domain": ["Tumor", "Normal"], "range": ["#e52a2a", "#3b54a5"]}, "legend": null}}},
      {"mark": {"type": "tick", "color": "#000", "thickness": 1.2, "size": 11}, "encoding": {"xOffset": {"field": "t", "type": "nominal", "sort": ["Tumor", "Normal"], "scale": {"paddingInner": 0.12}}, "y": {"field": "md", "type": "quantitative"}}},
      {"transform": [{"filter": "datum.t == 'Tumor'"}], "mark": {"type": "text", "text": "*", "color": "#e52a2a", "fontSize": 6, "dy": 2}, "encoding": {"y": {"field": "br", "type": "quantitative"}}},
      {"transform": [{"filter": "datum.z == 1"}], "mark": {"type": "tick", "color": "#555", "thickness": 0.8, "size": 11}, "encoding": {"xOffset": {"field": "t", "type": "nominal", "sort": ["Tumor", "Normal"], "scale": {"paddingInner": 0.12}}, "y": {"datum": 0, "type": "quantitative"}}}
     ]}
   ]}
  ]}
 ]},
 {"width": 680, "height": 93, "title": {"text": "K)", "dx": -2, "offset": 6},
  "data": {"values": [
   {"c": "BLCA|(num(T)=404; num(N)=28)", "t": "Tumor", "lo": 5.3, "q1": 7.18, "md": 7.67, "q3": 8.08, "hi": 9.9, "br": 10.8},
   {"c": "BLCA|(num(T)=404; num(N)=28)", "t": "Normal", "lo": 5.5, "q1": 6.06, "md": 6.43, "q3": 6.76, "hi": 7.6, "br": 10.8},
   {"c": "BRCA|(num(T)=1085; num(N)=291)", "t": "Tumor", "lo": 4.9, "q1": 7.1, "md": 7.5, "q3": 7.9, "hi": 10.2, "br": 10.5},
   {"c": "BRCA|(num(T)=1085; num(N)=291)", "t": "Normal", "lo": 5.3, "q1": 6.14, "md": 6.47, "q3": 6.76, "hi": 7.8, "br": 10.5},
   {"c": "COAD|(num(T)=275; num(N)=349)", "t": "Tumor", "lo": 5.9, "q1": 6.97, "md": 7.34, "q3": 7.7, "hi": 8.8, "br": 11.0},
   {"c": "COAD|(num(T)=275; num(N)=349)", "t": "Normal", "lo": 4.5, "q1": 5.65, "md": 6.06, "q3": 6.56, "hi": 10.0, "br": 11.0},
   {"c": "DLBC|(num(T)=47; num(N)=337)", "t": "Tumor", "lo": 5.1, "q1": 6.06, "md": 6.35, "q3": 6.56, "hi": 7.2, "br": 8.1},
   {"c": "DLBC|(num(T)=47; num(N)=337)", "t": "Normal", "lo": 0.6, "q1": 3.96, "md": 4.7, "q3": 5.3, "hi": 7.2, "br": 8.1},
   {"c": "GBM|(num(T)=163; num(N)=207)", "t": "Tumor", "lo": 5.1, "q1": 6.23, "md": 6.64, "q3": 7.05, "hi": 8.6, "br": 10.1},
   {"c": "GBM|(num(T)=163; num(N)=207)", "t": "Normal", "lo": 1.8, "q1": 4.08, "md": 4.37, "q3": 4.58, "hi": 5.3, "br": 10.1},
   {"c": "KIRC|(num(T)=523; num(N)=100)", "t": "Tumor", "lo": 4.5, "q1": 7.05, "md": 7.46, "q3": 7.88, "hi": 9.6, "br": 10.5},
   {"c": "KIRC|(num(T)=523; num(N)=100)", "t": "Normal", "lo": 2.1, "q1": 5.8, "md": 6.1, "q3": 6.35, "hi": 9.8, "br": 10.5},
   {"c": "KIRP|(num(T)=286; num(N)=60)", "t": "Tumor", "lo": 4.9, "q1": 6.85, "md": 7.2, "q3": 7.6, "hi": 9.0, "br": 10.5},
   {"c": "KIRP|(num(T)=286; num(N)=60)", "t": "Normal", "lo": 2.1, "q1": 5.73, "md": 6.06, "q3": 6.35, "hi": 7.3, "br": 10.5},
   {"c": "LGG|(num(T)=518; num(N)=207)", "t": "Tumor", "lo": 4.3, "q1": 5.3, "md": 5.65, "q3": 5.94, "hi": 7.6, "br": 10.1},
   {"c": "LGG|(num(T)=518; num(N)=207)", "t": "Normal", "lo": 3.05, "q1": 4.08, "md": 4.37, "q3": 4.58, "hi": 5.6, "br": 10.1},
   {"c": "LUAD|(num(T)=483; num(N)=347)", "t": "Tumor", "lo": 5.5, "q1": 7.38, "md": 7.8, "q3": 8.2, "hi": 9.4, "br": 11.3},
   {"c": "LUAD|(num(T)=483; num(N)=347)", "t": "Normal", "lo": 3.05, "q1": 6.35, "md": 6.76, "q3": 7.1, "hi": 8.0, "br": 11.3},
   {"c": "PAAD|(num(T)=179; num(N)=171)", "t": "Tumor", "lo": 6.35, "q1": 7.9, "md": 8.33, "q3": 8.8, "hi": 9.6, "br": 10.3},
   {"c": "PAAD|(num(T)=179; num(N)=171)", "t": "Normal", "lo": 5.3, "q1": 6.47, "md": 7.05, "q3": 7.5, "hi": 8.8, "br": 10.3},
   {"c": "READ|(num(T)=92; num(N)=318)", "t": "Tumor", "lo": 5.9, "q1": 6.85, "md": 7.18, "q3": 7.5, "hi": 8.6, "br": 11.0},
   {"c": "READ|(num(T)=92; num(N)=318)", "t": "Normal", "lo": 4.7, "q1": 5.65, "md": 6.02, "q3": 6.35, "hi": 10.7, "br": 11.0},
   {"c": "TGCT|(num(T)=137; num(N)=165)", "t": "Tumor", "lo": 5.3, "q1": 6.56, "md": 7.05, "q3": 7.5, "hi": 8.6, "br": 8.8},
   {"c": "TGCT|(num(T)=137; num(N)=165)", "t": "Normal", "lo": 4.3, "q1": 4.78, "md": 5.03, "q3": 5.3, "hi": 6.56, "br": 8.8},
   {"c": "THYM|(num(T)=118; num(N)=339)", "t": "Tumor", "lo": 5.3, "q1": 5.94, "md": 6.23, "q3": 6.47, "hi": 7.6, "br": 8.4},
   {"c": "THYM|(num(T)=118; num(N)=339)", "t": "Normal", "lo": 0.6, "q1": 4.0, "md": 4.7, "q3": 5.4, "hi": 7.4, "br": 8.4},
   {"c": "UCEC|(num(T)=174; num(N)=91)", "t": "Tumor", "lo": 5.9, "q1": 7.18, "md": 7.67, "q3": 8.08, "hi": 9.2, "br": 9.65},
   {"c": "UCEC|(num(T)=174; num(N)=91)", "t": "Normal", "lo": 5.3, "q1": 5.73, "md": 6.06, "q3": 6.35, "hi": 7.2, "br": 9.65},
   {"c": "UCS|(num(T)=57; num(N)=78)", "t": "Tumor", "lo": 5.73, "q1": 7.05, "md": 7.46, "q3": 7.88, "hi": 9.0, "br": 9.57},
   {"c": "UCS|(num(T)=57; num(N)=78)", "t": "Normal", "lo": 5.3, "q1": 5.73, "md": 6.06, "q3": 6.35, "hi": 7.2, "br": 9.57}
  ]},
  "encoding": {"x": {"field": "c", "type": "nominal", "sort": null, "scale": {"paddingInner": 0.4, "paddingOuter": 0.8}, "axis": {"title": "P4HB", "titleY": -83, "labelExpr": "split(datum.label, '|')"}}},
  "layer": [
   {"mark": {"type": "rule", "color": "#9a9a9a", "strokeWidth": 0.5}, "encoding": {"xOffset": {"field": "t", "type": "nominal", "sort": ["Tumor", "Normal"], "scale": {"paddingInner": 0.12}}, "y": {"field": "hi", "type": "quantitative", "scale": {"domain": [0, 11.7], "nice": false, "zero": false}, "axis": {"title": "Expression - log₂(TPM + 1)", "values": [2, 4, 6, 8, 10]}}, "y2": {"field": "br"}}},
   {"mark": {"type": "line", "color": "#9a9a9a", "strokeWidth": 0.5}, "encoding": {"xOffset": {"field": "t", "type": "nominal", "sort": ["Tumor", "Normal"], "scale": {"paddingInner": 0.12}}, "y": {"field": "br", "type": "quantitative"}, "detail": {"field": "c"}}},
   {"mark": {"type": "bar", "color": "#000", "opacity": 0.13, "width": 8}, "encoding": {"xOffset": {"field": "t", "type": "nominal", "sort": ["Tumor", "Normal"], "scale": {"paddingInner": 0.12}}, "y": {"field": "lo", "type": "quantitative"}, "y2": {"field": "hi"}}},
   {"mark": {"type": "rule", "color": "#222", "strokeWidth": 0.7, "opacity": 0.6}, "encoding": {"xOffset": {"field": "t", "type": "nominal", "sort": ["Tumor", "Normal"], "scale": {"paddingInner": 0.12}}, "y": {"field": "lo", "type": "quantitative"}, "y2": {"field": "hi"}}},
   {"mark": {"type": "bar", "stroke": "#333", "strokeWidth": 0.4, "opacity": 0.92}, "encoding": {"xOffset": {"field": "t", "type": "nominal", "sort": ["Tumor", "Normal"], "scale": {"paddingInner": 0.12}}, "y": {"field": "q1", "type": "quantitative"}, "y2": {"field": "q3"}, "color": {"field": "t", "type": "nominal", "scale": {"domain": ["Tumor", "Normal"], "range": ["#e52a2a", "#3b54a5"]}, "legend": null}}},
   {"mark": {"type": "tick", "color": "#000", "thickness": 1.2, "size": 11}, "encoding": {"xOffset": {"field": "t", "type": "nominal", "sort": ["Tumor", "Normal"], "scale": {"paddingInner": 0.12}}, "y": {"field": "md", "type": "quantitative"}}},
   {"transform": [{"filter": "datum.t == 'Tumor'"}], "mark": {"type": "text", "text": "*", "color": "#e52a2a", "fontSize": 6, "dy": 2}, "encoding": {"y": {"field": "br", "type": "quantitative"}}}
  ]}
]
}
